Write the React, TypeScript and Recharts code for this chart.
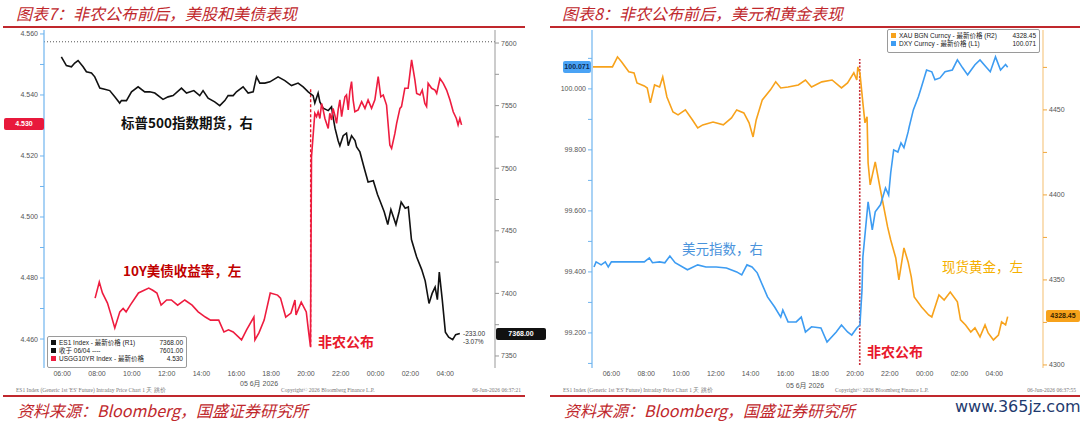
import { LineChart, Line, XAxis, YAxis, ReferenceLine } from 'recharts';

// time in hours from 05 Jun 00:00 (24 = 00:00 next day)
const hourTicks = [6, 8, 10, 12, 14, 16, 18, 20, 22, 24, 26, 28];
const nfpTime = 20.27;

// ES1 Index (right axis, left chart)
const esTime = [5.95, 6.24, 6.53, 6.72, 6.91, 7.2, 7.39, 7.68, 7.87, 8.16, 8.44, 8.73, 9.02, 9.3, 9.4, 9.69, 9.98, 10.36, 10.74, 11.03, 11.32, 11.79, 12.08, 12.37, 12.85, 13.14, 13.56, 13.9, 14.09, 14.38, 14.76, 15.05, 15.34, 15.53, 15.82, 16.01, 16.39, 16.68, 16.97, 17.16, 17.35, 17.64, 17.93, 18.4, 18.79, 19.17, 19.55, 19.84, 20.13, 20.22, 20.41, 20.51, 20.7, 20.8, 20.99, 21.28, 21.47, 21.57, 21.67, 21.85, 21.95, 22.14, 22.33, 22.43, 22.62, 22.82, 22.91, 23.1, 23.35, 23.57, 23.87, 24.11, 24.28, 24.5, 24.7, 24.88, 25.17, 25.35, 25.47, 25.7, 25.88, 26.06, 26.36, 26.65, 26.85, 27.07, 27.25, 27.42, 27.55, 27.66, 27.83, 28.01, 28.2, 28.43, 28.6, 28.84];
const esValue = [7589, 7582, 7581, 7584, 7586, 7581, 7577, 7576, 7573, 7564, 7563, 7562, 7557, 7552, 7554, 7554, 7561, 7565, 7561, 7561, 7560, 7555, 7557, 7558, 7564, 7560, 7562, 7558, 7562, 7556, 7553, 7550, 7554, 7558, 7558, 7561, 7565, 7560, 7561, 7573, 7568, 7568, 7569, 7573, 7570, 7566, 7568, 7565, 7561, 7560, 7558, 7552, 7560, 7553, 7548, 7546, 7549, 7540, 7532, 7522, 7518, 7526, 7528, 7518, 7526, 7522, 7517, 7513, 7500, 7489, 7490, 7479, 7473, 7465, 7455, 7467, 7455, 7465, 7473, 7468, 7469, 7443, 7429, 7419, 7410, 7392, 7400, 7405, 7395, 7417, 7395, 7369, 7365, 7363, 7367, 7368];

// USGG10YR Index (left axis, left chart)
const ustTime = [7.89, 8.13, 8.31, 8.6, 8.8, 9.02, 9.31, 9.5, 9.67, 9.91, 10.38, 10.97, 11.2, 11.44, 11.68, 12.0, 12.27, 12.63, 13.04, 13.46, 13.81, 14.22, 14.52, 14.99, 15.29, 15.55, 15.82, 16.3, 16.59, 17.01, 17.07, 17.3, 17.6, 17.95, 18.37, 18.54, 18.84, 19.14, 19.37, 19.43, 19.73, 20.02, 20.14, 20.26, 20.32, 20.51, 20.61, 20.7, 20.8, 20.9, 20.99, 21.09, 21.28, 21.37, 21.47, 21.56, 21.66, 21.76, 21.85, 21.95, 22.05, 22.14, 22.24, 22.33, 22.43, 22.52, 22.62, 22.71, 22.81, 23.0, 23.2, 23.39, 23.57, 23.77, 23.96, 24.15, 24.3, 24.44, 24.63, 24.82, 24.92, 25.11, 25.21, 25.4, 25.49, 25.68, 25.87, 26.07, 26.26, 26.36, 26.55, 26.68, 26.83, 26.93, 27.02, 27.22, 27.41, 27.51, 27.7, 27.89, 28.08, 28.27, 28.46, 28.64, 28.74, 28.84, 28.94];
const ustValue = [4.4734, 4.4787, 4.4751, 4.4718, 4.468, 4.4636, 4.4689, 4.47, 4.4689, 4.4711, 4.4751, 4.4767, 4.476, 4.4751, 4.4711, 4.4728, 4.4728, 4.4711, 4.4728, 4.4711, 4.4689, 4.4672, 4.4662, 4.4662, 4.4623, 4.463, 4.4623, 4.4597, 4.463, 4.4672, 4.4597, 4.462, 4.4662, 4.4751, 4.4744, 4.4734, 4.4672, 4.4685, 4.4728, 4.4679, 4.4721, 4.4689, 4.463, 4.4575, 4.5198, 4.534, 4.5329, 4.5345, 4.5323, 4.5372, 4.5351, 4.5323, 4.529, 4.534, 4.5318, 4.5356, 4.5334, 4.5307, 4.5351, 4.5384, 4.5329, 4.5362, 4.5394, 4.54, 4.5351, 4.5411, 4.5444, 4.5384, 4.5345, 4.5351, 4.5378, 4.5356, 4.5384, 4.5356, 4.5384, 4.546, 4.5394, 4.54, 4.5367, 4.5236, 4.5225, 4.5274, 4.5307, 4.5356, 4.5362, 4.5422, 4.5422, 4.5515, 4.5449, 4.5405, 4.54, 4.5416, 4.5372, 4.5362, 4.5438, 4.5422, 4.5416, 4.5405, 4.5454, 4.5438, 4.5416, 4.5384, 4.5345, 4.5323, 4.5302, 4.5323, 4.5302];

// DXY Curncy (left axis, right chart)
const dxyTime = [5.0, 5.12, 5.41, 5.65, 5.82, 6.0, 7.89, 8.18, 8.36, 8.77, 9.07, 9.36, 9.66, 10.37, 10.96, 11.43, 12.02, 12.61, 13.2, 13.49, 13.79, 14.08, 14.38, 14.97, 15.38, 15.73, 15.85, 16.15, 16.62, 16.91, 17.15, 17.5, 18.04, 18.39, 18.92, 19.22, 19.57, 19.81, 20.1, 20.28, 20.4, 20.45, 20.75, 20.99, 21.16, 21.46, 21.75, 21.93, 22.05, 22.22, 22.46, 22.64, 22.81, 23.05, 23.11, 23.35, 23.64, 23.82, 24.11, 24.41, 24.59, 24.88, 25.17, 25.59, 25.88, 26.18, 26.47, 26.89, 27.18, 27.53, 27.77, 28.07, 28.36, 28.65, 28.77];
const dxyValue = [99.416, 99.433, 99.423, 99.433, 99.416, 99.433, 99.433, 99.446, 99.43, 99.433, 99.43, 99.452, 99.43, 99.407, 99.423, 99.416, 99.416, 99.413, 99.4, 99.39, 99.423, 99.416, 99.397, 99.318, 99.285, 99.252, 99.275, 99.236, 99.236, 99.252, 99.203, 99.22, 99.216, 99.17, 99.203, 99.226, 99.203, 99.193, 99.216, 99.226, 99.341, 99.449, 99.63, 99.538, 99.597, 99.62, 99.675, 99.652, 99.725, 99.8, 99.793, 99.823, 99.807, 99.859, 99.875, 99.931, 99.974, 100.007, 100.062, 100.056, 100.03, 100.036, 100.056, 100.062, 100.095, 100.069, 100.046, 100.079, 100.095, 100.072, 100.056, 100.105, 100.062, 100.08, 100.071];

// XAU BGN Curncy (right axis, right chart)
const xauTime = [4.94, 6.06, 6.35, 6.59, 7.0, 7.3, 7.47, 7.89, 8.06, 8.24, 8.48, 8.77, 8.95, 9.19, 9.54, 9.83, 10.25, 10.66, 10.96, 11.25, 11.84, 12.43, 12.9, 13.2, 13.61, 13.91, 14.14, 14.32, 14.67, 15.14, 15.44, 15.73, 16.15, 16.74, 17.15, 17.5, 18.09, 18.68, 19.22, 19.57, 19.93, 20.1, 20.16, 20.28, 20.45, 20.57, 20.69, 20.75, 20.87, 21.16, 21.46, 21.87, 22.05, 22.34, 22.52, 22.81, 23.05, 23.23, 23.4, 23.82, 24.23, 24.41, 24.82, 25.12, 25.47, 25.88, 26.06, 26.35, 26.65, 26.89, 27.18, 27.47, 27.65, 27.95, 28.24, 28.42, 28.65, 28.77];
const xauValue = [4475.3, 4475.3, 4481.2, 4478.2, 4472.4, 4471.8, 4465.9, 4464.1, 4462.9, 4454.1, 4464.7, 4463.5, 4469.4, 4457.6, 4448.8, 4447.1, 4450, 4444.1, 4439.4, 4441.2, 4442.9, 4441.2, 4445.3, 4450, 4448.2, 4442.4, 4434.1, 4444.1, 4455.9, 4461.8, 4466.5, 4462.9, 4463.5, 4464.7, 4467.6, 4463.5, 4466.5, 4467.6, 4462.9, 4465.9, 4471.8, 4467.6, 4475.3, 4471.8, 4454.1, 4442.4, 4445.9, 4418.8, 4405.9, 4419.4, 4402.9, 4381.2, 4373.5, 4362.9, 4350, 4368.8, 4360.6, 4351.8, 4340, 4334.1, 4329.4, 4328.2, 4341.2, 4338.2, 4342.9, 4337.1, 4326.5, 4323.5, 4319.4, 4321.8, 4316.5, 4323.5, 4318.8, 4314.7, 4317.6, 4325.3, 4323.5, 4328.45];

const ustTicks = [4.46, 4.47, 4.48, 4.49, 4.5, 4.51, 4.52, 4.53, 4.54, 4.55, 4.56];
const esTicks = [7350, 7375, 7400, 7425, 7450, 7475, 7500, 7525, 7550, 7575, 7600];
const dxyTicks = [99.1, 99.2, 99.3, 99.4, 99.5, 99.6, 99.7, 99.8, 99.9, 100.0, 100.1];
const xauTicks = [4300, 4325, 4350, 4375, 4400, 4425, 4450, 4475];

const toRows = (t: number[], v: number[]) => t.map((x, i) => ({ t: x, v: v[i] }));
const esData = toRows(esTime, esValue);
const ustData = toRows(ustTime, ustValue);
const dxyData = toRows(dxyTime, dxyValue);
const xauData = toRows(xauTime, xauValue);

const hourLabel = (h: number) => `${String(h % 24).padStart(2, '0')}:00`;
const tickFont = { fontSize: 7, fill: '#555', fontFamily: 'Liberation Sans, Arial, sans-serif' };
const RED = '#c0282d';
const cjk = '"Noto Sans CJK SC", sans-serif';

const abs = (left: number, top: number, extra: any = {}) => ({ position: 'absolute' as const, left, top, ...extra });

function Header({ left, text }: { left: number; text: string }) {
  return (
    <div style={abs(left, 1, { fontFamily: cjk, fontStyle: 'italic', fontSize: 16, color: RED, whiteSpace: 'nowrap' })}>{text}</div>
  );
}

function Footer({ left, width, copyLeft, date, source }: { left: number; width: number; copyLeft: number; date: string; source: string }) {
  const small = { fontFamily: 'Liberation Serif, serif', fontSize: 5.5, color: '#777', whiteSpace: 'nowrap' as const };
  return (
    <>
      <div style={abs(left + 13, 387, small)}>ES1 Index (Generic 1st 'ES' Future) Intraday Price Chart 1 天 跳价</div>
      <div style={abs(copyLeft, 387, small)}>Copyright© 2026 Bloomberg Finance L.P.</div>
      <div style={abs(left + width - 92, 387, { ...small, width: 88, textAlign: 'right' })}>{date}</div>
      <div style={abs(left, 395, { width, height: 2, background: RED })} />
      <div style={abs(left + 14, 398, { fontFamily: cjk, fontStyle: 'italic', fontSize: 16, color: RED, whiteSpace: 'nowrap' })}>{source}</div>
    </>
  );
}

function Tag({ left, top, width, bg, color, text }: any) {
  return (
    <div style={abs(left, top, { width, height: 12, background: bg, color, fontSize: 7, lineHeight: '12px', textAlign: 'center', fontFamily: 'Liberation Sans, sans-serif', fontWeight: 700, borderRadius: 2 })}>{text}</div>
  );
}

function LegendRow({ color, name, value }: { color: string; name: string; value: string }) {
  return (
    <div style={{ display: 'flex', alignItems: 'center', height: 8 }}>
      <span style={{ width: 5, height: 5, background: color, marginRight: 3, flex: 'none' }} />
      <span style={{ flex: 1, whiteSpace: 'nowrap' }}>{name}</span>
      <span style={{ whiteSpace: 'nowrap' }}>{value}</span>
    </div>
  );
}

function BondStockChart() {
  return (
    <LineChart width={545} height={400} margin={{ top: 30, right: 0, bottom: 12, left: 0 }}>
      <XAxis dataKey="t" type="number" domain={[4.954, 30.86]} allowDataOverflow ticks={hourTicks} interval={0}
        tickFormatter={hourLabel} axisLine={false} tickLine={false} tickSize={0} tickMargin={3} height={20} tick={tickFont} />
      <YAxis yAxisId="L" orientation="left" width={44} domain={[4.4505, 4.5613]} allowDataOverflow ticks={ustTicks} interval={0}
        tickFormatter={(v: number) => (Math.round(v * 1000) % 20 === 0 ? v.toFixed(3) : '')}
        axisLine={{ stroke: '#6fb4ee', strokeWidth: 1.2 }} tickLine={{ stroke: '#6fb4ee' }} tickSize={4} tickMargin={2} tick={tickFont} />
      <YAxis yAxisId="R" orientation="right" width={50} domain={[7340.4, 7610.4]} allowDataOverflow ticks={esTicks} interval={0}
        tickFormatter={(v: number) => (v % 50 === 0 ? String(v) : '')}
        axisLine={{ stroke: '#999' }} tickLine={{ stroke: '#999' }} tickSize={4} tickMargin={2} tick={tickFont} />
      <ReferenceLine yAxisId="R" y={7601} stroke="#555" strokeDasharray="1 2" />
      <ReferenceLine yAxisId="R" segment={[{ x: nfpTime, y: 7357 }, { x: nfpTime, y: 7564 }]} stroke="#e8192c" strokeWidth={1.4} strokeDasharray="3 2" />
      <Line yAxisId="R" data={esData} dataKey="v" type="linear" stroke="#111" strokeWidth={1.6} dot={false} isAnimationActive={false} />
      <Line yAxisId="L" data={ustData} dataKey="v" type="linear" stroke="#ee1c3f" strokeWidth={1.6} dot={false} isAnimationActive={false} />
    </LineChart>
  );
}

function DollarGoldChart() {
  return (
    <LineChart width={540} height={400} margin={{ top: 30, right: 0, bottom: 12, left: 0 }}>
      <XAxis dataKey="t" type="number" domain={[4.885, 30.8]} allowDataOverflow ticks={hourTicks} interval={0}
        tickFormatter={hourLabel} axisLine={false} tickLine={false} tickSize={0} tickMargin={3} height={20} tick={tickFont} />
      <YAxis yAxisId="L" orientation="left" width={52} domain={[99.085, 100.193]} allowDataOverflow ticks={dxyTicks} interval={0}
        tickFormatter={(v: number) => (Math.round(v * 10) % 2 === 0 ? v.toFixed(3) : '')}
        axisLine={{ stroke: '#6fb4ee', strokeWidth: 1.2 }} tickLine={{ stroke: '#6fb4ee' }} tickSize={4} tickMargin={2} tick={tickFont} />
      <YAxis yAxisId="R" orientation="right" width={37} domain={[4298.2, 4497]} allowDataOverflow ticks={xauTicks} interval={0}
        tickFormatter={(v: number) => (v % 50 === 0 ? String(v) : '')}
        axisLine={{ stroke: '#f6c987', strokeWidth: 1.2 }} tickLine={{ stroke: '#f0a63a' }} tickSize={4} tickMargin={2} tick={tickFont} />
      <ReferenceLine yAxisId="L" segment={[{ x: nfpTime, y: 99.095 }, { x: nfpTime, y: 100.098 }]} stroke="#c9303a" strokeWidth={1.6} strokeDasharray="2 1.5" />
      <Line yAxisId="R" data={xauData} dataKey="v" type="linear" stroke="#f7a21b" strokeWidth={1.6} dot={false} isAnimationActive={false} />
      <Line yAxisId="L" data={dxyData} dataKey="v" type="linear" stroke="#3d9cf2" strokeWidth={1.6} dot={false} isAnimationActive={false} />
    </LineChart>
  );
}

export default function App() {
  const legendBox = { border: '1px solid #9a9a9a', borderRadius: 2, background: '#fff', padding: '1px 3px', fontSize: 6.5, color: '#222', fontFamily: 'Liberation Sans, "Noto Sans CJK SC", sans-serif', boxSizing: 'border-box' as const };
  return (
    <div style={{ position: 'relative', width: 1080, height: 421, background: '#fff', overflow: 'hidden' }}>
      <style>{'body{margin:0}'}</style>

      {/* left panel */}
      <Header left={16} text="图表7：非农公布前后，美股和美债表现" />
      <div style={abs(3, 26, { width: 522, height: 2, background: RED })} />
      <div style={abs(0, 0)}><BondStockChart /></div>
      <div style={abs(121, 112, { fontFamily: cjk, fontWeight: 700, fontSize: 13.5, color: '#111', whiteSpace: 'nowrap' })}>标普500指数期货，右</div>
      <div style={abs(123, 260, { fontFamily: cjk, fontWeight: 700, fontSize: 13.5, color: '#c00000', whiteSpace: 'nowrap' })}>10Y美债收益率，左</div>
      <div style={abs(318, 331, { fontFamily: cjk, fontWeight: 700, fontSize: 14, color: '#e8192c', whiteSpace: 'nowrap' })}>非农公布</div>
      <div style={abs(463, 330, { fontSize: 6.5, color: '#333', fontFamily: 'Liberation Sans, sans-serif', lineHeight: '8px' })}>-233.00<br />-3.07%</div>
      <Tag left={4} top={118} width={40} bg="#e8193c" color="#fff" text="4.530" />
      <Tag left={496} top={328} width={50} bg="#111" color="#fff" text="7368.00" />
      <div style={abs(47, 336, { ...legendBox, width: 140, height: 32 })}>
        <LegendRow color="#111" name="ES1 Index - 最新价格 (R1)" value="7368.00" />
        <LegendRow color="#111" name="收于 06/04 ----" value="7601.00" />
        <LegendRow color="#ee1c3f" name="USGG10YR Index - 最新价格" value="4.530" />
      </div>
      <div style={abs(240, 378, { fontSize: 7, color: '#555', fontFamily: 'Liberation Sans, "Noto Sans CJK SC", sans-serif', whiteSpace: 'nowrap' })}>05 6月 2026</div>
      <Footer left={3} width={522} copyLeft={281} date="06-Jun-2026 06:37:21" source="资料来源：Bloomberg，国盛证券研究所" />

      {/* right panel */}
      <Header left={562} text="图表8：非农公布前后，美元和黄金表现" />
      <div style={abs(550, 26, { width: 530, height: 2, background: RED })} />
      <div style={abs(540, 0)}><DollarGoldChart /></div>
      <div style={abs(682, 238, { fontFamily: cjk, fontSize: 13.5, color: '#4a93dc', whiteSpace: 'nowrap' })}>美元指数，右</div>
      <div style={abs(942, 256, { fontFamily: cjk, fontSize: 13.5, color: '#f5b000', whiteSpace: 'nowrap' })}>现货黄金，左</div>
      <div style={abs(867, 341, { fontFamily: cjk, fontWeight: 700, fontSize: 14, color: '#e8192c', whiteSpace: 'nowrap' })}>非农公布</div>
      <Tag left={563} top={61} width={28} bg="#4aa3f5" color="#0d2b55" text="100.071" />
      <Tag left={1046} top={310} width={34} bg="#f7a21b" color="#3a2500" text="4328.45" />
      <div style={abs(887, 29, { ...legendBox, width: 153, height: 24 })}>
        <LegendRow color="#f7a21b" name="XAU BGN Curncy - 最新价格 (R2)" value="4328.45" />
        <LegendRow color="#3d9cf2" name="DXY Curncy - 最新价格 (L1)" value="100.071" />
      </div>
      <div style={abs(786, 380, { fontSize: 7, color: '#555', fontFamily: 'Liberation Sans, "Noto Sans CJK SC", sans-serif', whiteSpace: 'nowrap' })}>05 6月 2026</div>
      <Footer left={550} width={530} copyLeft={835} date="06-Jun-2026 06:37:55" source="资料来源：Bloomberg，国盛证券研究所" />
      <div style={abs(955, 397, { fontFamily: 'DejaVu Sans, sans-serif', fontSize: 16, color: '#1e3a6e', whiteSpace: 'nowrap' })}>www.365jz.com</div>
    </div>
  );
}
